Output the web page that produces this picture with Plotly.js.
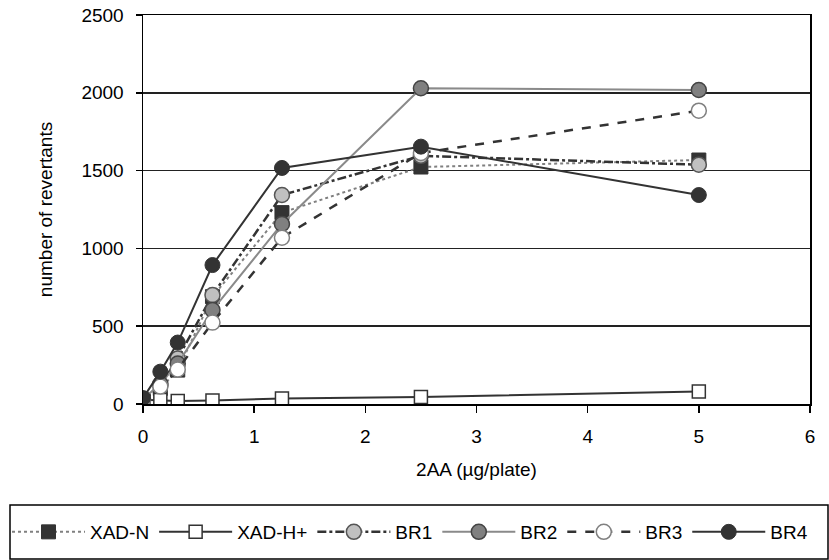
<!DOCTYPE html>
<html>
<head>
<meta charset="utf-8">
<script src="https://cdn.plot.ly/plotly-3.0.1.min.js"></script>
<style>
html,body{margin:0;padding:0;background:#fff;}
#chart{width:829px;height:560px;}
</style>
</head>
<body>
<div id="chart"></div>
<script>
// Dose of 2AA (µg/plate)
const doses = [0, 0.156, 0.3125, 0.625, 1.25, 2.5, 5];
// Number of revertants per series
const xadN  = [25, 100, 218, 690, 1230, 1523, 1568];
const xadH  = [28, 25, 20, 22, 35, 45, 80];
const br1   = [30, 120, 292, 700, 1343, 1595, 1538];
const br2   = [30, 130, 260, 604, 1157, 2029, 2018];
const br3   = [25, 112, 222, 523, 1069, 1613, 1885];
const br4   = [38, 208, 395, 893, 1517, 1654, 1343];
const seriesNames = ["XAD-N", "XAD-H+", "BR1", "BR2", "BR3", "BR4"];
const xTicks = [0, 1, 2, 3, 4, 5, 6];
const yTicks = [0, 500, 1000, 1500, 2000, 2500];

const FONT = "Arial, 'Liberation Sans', sans-serif";

const traces = [
  {x: doses, y: xadN, name: seriesNames[0], mode: "lines+markers",
   line: {color: "#808080", width: 2, dash: "dot"},
   marker: {symbol: "square", size: 14, color: "#333333", line: {color: "#333333", width: 1}}},
  {x: doses, y: xadH, name: seriesNames[1], mode: "lines+markers",
   line: {color: "#333333", width: 2, dash: "solid"},
   marker: {symbol: "square", size: 13, color: "#ffffff", line: {color: "#333333", width: 1.5}}},
  {x: doses, y: br1, name: seriesNames[2], mode: "lines+markers",
   line: {color: "#333333", width: 2.5, dash: "dashdot"},
   marker: {symbol: "circle", size: 15, color: "#c0c0c0", line: {color: "#555555", width: 1.5}}},
  {x: doses, y: br2, name: seriesNames[3], mode: "lines+markers",
   line: {color: "#8a8a8a", width: 2, dash: "solid"},
   marker: {symbol: "circle", size: 15, color: "#808080", line: {color: "#444444", width: 1.5}}},
  {x: doses, y: br3, name: seriesNames[4], mode: "lines+markers",
   line: {color: "#333333", width: 2.5, dash: "dash"},
   marker: {symbol: "circle", size: 15, color: "#ffffff", line: {color: "#808080", width: 1.5}}},
  {x: doses, y: br4, name: seriesNames[5], mode: "lines+markers",
   line: {color: "#333333", width: 2, dash: "solid"},
   marker: {symbol: "circle", size: 15, color: "#333333", line: {color: "#333333", width: 1}}}
];

const W = 829, H = 560;
const L = 143, R = 19, T = 15, B = 156;
const pw = W - L - R, ph = H - T - B;

const layout = {
  width: W, height: H,
  margin: {l: L, r: R, t: T, b: B, pad: 0, autoexpand: false},
  paper_bgcolor: "#ffffff", plot_bgcolor: "#ffffff",
  font: {family: FONT, size: 19, color: "#000000"},
  showlegend: true,
  xaxis: {
    range: [0, 6], tickvals: xTicks, ticktext: xTicks.map(String),
    automargin: false,
    showgrid: false, zeroline: false,
    showline: true, linecolor: "#000000", linewidth: 1.5, mirror: true,
    ticks: "outside", ticklen: 7, tickwidth: 1.5, tickcolor: "#000000",
    ticklabelstandoff: 8,
    tickfont: {family: FONT, size: 19, color: "#000000"},
    title: {text: "2AA (\u00b5g/plate)", font: {family: FONT, size: 19, color: "#000000"}, standoff: 16}
  },
  yaxis: {
    range: [0, 2500], tickvals: yTicks, ticktext: yTicks.map(String),
    automargin: false,
    showgrid: true, gridcolor: "#222222", gridwidth: 1.5, zeroline: false,
    showline: true, linecolor: "#000000", linewidth: 1.5, mirror: true,
    ticks: "outside", ticklen: 6, tickwidth: 1.5, tickcolor: "#000000",
    ticklabelstandoff: 8,
    tickfont: {family: FONT, size: 19, color: "#000000"},
    title: {text: "number of revertants", font: {family: FONT, size: 19, color: "#000000"}, standoff: 24}
  },
  legend: {
    orientation: "h",
    x: (7 - L) / pw, xanchor: "left",
    y: (H - B - 532) / ph, yanchor: "middle",
    bgcolor: "rgba(0,0,0,0)", borderwidth: 0,
    itemwidth: 73,
    font: {family: FONT, size: 19, color: "#000000"},
    itemclick: false, itemdoubleclick: false
  },
  shapes: [{
    type: "rect", xref: "paper", yref: "paper",
    x0: (10 - L) / pw, x1: (828 - L) / pw,
    y0: (H - B - 505) / ph, y1: (H - B - 559) / ph,
    line: {color: "#000000", width: 1.5}, fillcolor: "rgba(0,0,0,0)", layer: "below"
  }]
};

Plotly.newPlot("chart", traces, layout, {displayModeBar: false, staticPlot: true});
</script>
</body>
</html>
